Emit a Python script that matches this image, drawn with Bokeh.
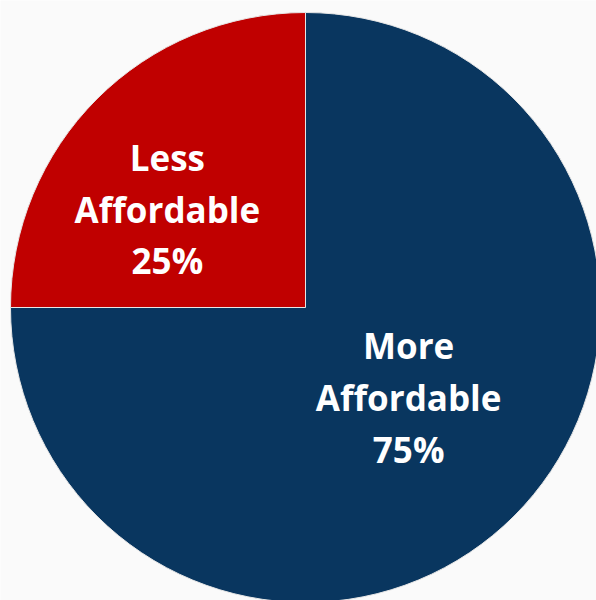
import math
from bokeh.plotting import figure
from bokeh.models import ColumnDataSource, Range1d
from bokeh.core.properties import value
from bokeh.embed import file_html
from bokeh.resources import INLINE

labels = ["Less\nAffordable\n25%", "More\nAffordable\n75%"]
shares = [25, 75]
colors = ["#C00000", "#09365F"]

W, H = 596, 600
cx, cy = 305, H - 307
R = 295

total = sum(shares)
starts, ends, mids = [], [], []
a = math.pi / 2
for s in shares:
    span = 2 * math.pi * s / total
    starts.append(a)
    ends.append(a + span)
    mids.append(a + span / 2)
    a += span

# label placement: distance fraction and angular nudge per slice
label_dist = [0.575, 0.464]
label_nudge = [0.166, 0.068]
lx = [cx + R * d * math.cos(m + n) for d, m, n in zip(label_dist, mids, label_nudge)]
ly = [cy + R * d * math.sin(m + n) for d, m, n in zip(label_dist, mids, label_nudge)]

src = ColumnDataSource(dict(start=starts, end=ends, color=colors))
lsrc = ColumnDataSource(dict(x=lx, y=ly, text=labels))

p = figure(width=W, height=H, output_backend="svg", toolbar_location=None,
           x_range=Range1d(0, W), y_range=Range1d(0, H), min_border=0)
p.axis.visible = False
p.grid.visible = False
p.outline_line_color = None
p.background_fill_color = "#FAFAFA"
p.border_fill_color = "#FAFAFA"

p.wedge(x=cx, y=cy, radius=R, start_angle="start", end_angle="end",
        fill_color="color", line_color="#E6E6E6", line_width=1, source=src)

p.text(x="x", y="y", text="text", source=lsrc, text_color="white",
       text_font=value("Open Sans"), text_font_style="bold",
       text_font_size="35px", text_align="center", text_baseline="middle",
       text_line_height=1.1)

open("out.html", "w").write(file_html(p, INLINE))
